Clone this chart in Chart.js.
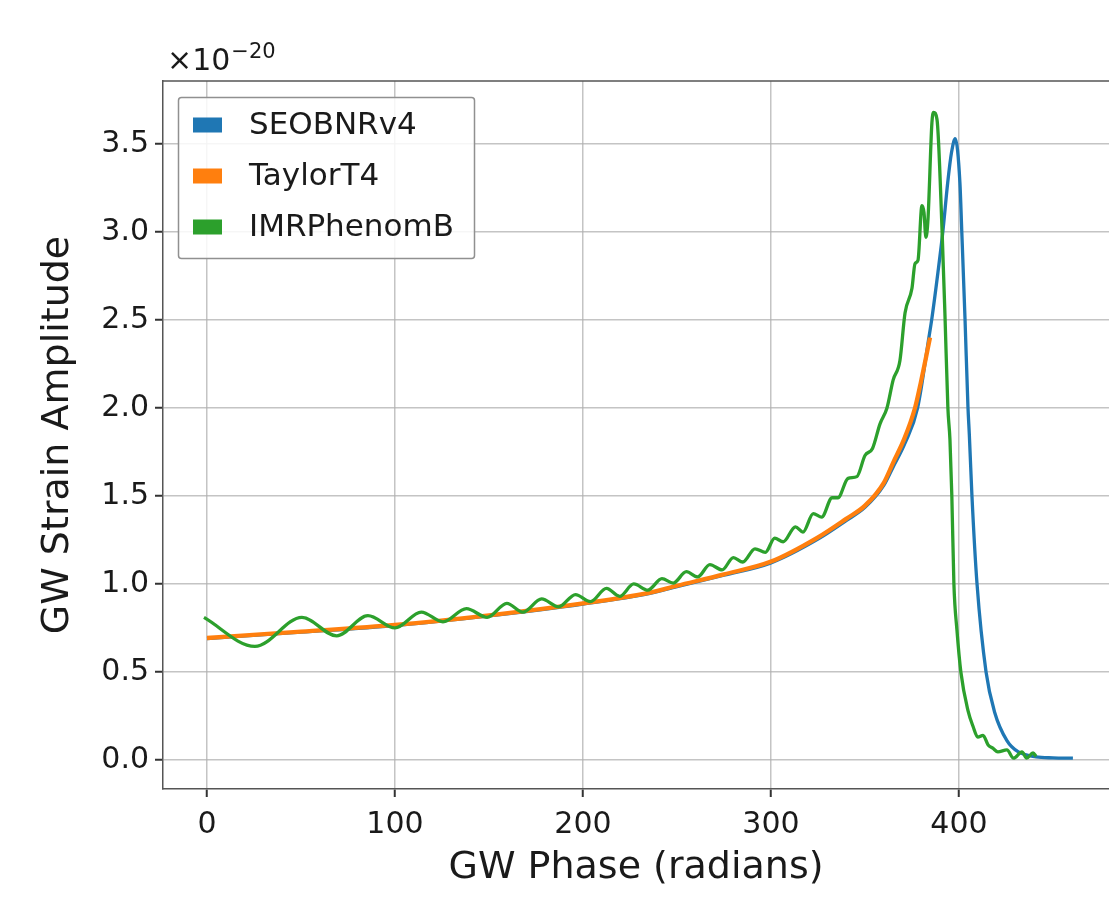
<!DOCTYPE html>
<html lang="en">
<head>
    <meta charset="UTF-8">
    <title>GW Strain Amplitude vs Phase</title>
    <script src="https://cdn.jsdelivr.net/npm/chart.js"></script>
    <style>
        body {
            margin: 0;
            background: #fff;
        }
        #wrap {
            width: 1109px;
            height: 900px;
        }
    </style>
</head>
<body>
    <div id="wrap">
        <canvas id="myChart" width="1109" height="900"></canvas>
    </div>

    <script>
        // values (y in units of 1e-20)
        const seobX = [0, 50, 100, 150, 200, 235, 250, 275, 300, 325, 340, 350, 360, 365, 371.3, 378, 384, 385.6, 388.8, 391.5, 394, 396, 398, 400.5, 401.5, 403.2, 404.8, 405.5, 406.9, 409.6, 414.4, 419, 425.5, 431.4, 441, 450, 460.6];
        const seobY = [0.69, 0.726, 0.764, 0.819, 0.886, 0.945, 0.985, 1.05, 1.12, 1.255, 1.36, 1.435, 1.56, 1.665, 1.80, 2.0, 2.40, 2.51, 2.77, 3.01, 3.28, 3.45, 3.53, 3.28, 3.0, 2.51, 2.0, 1.85, 1.5, 1.0, 0.5, 0.27, 0.11, 0.047, 0.018, 0.012, 0.01];

        const t4X = [0, 50, 100, 150, 200, 235, 250, 275, 300, 325, 340, 350, 360, 365, 370.7, 376.6, 379.6, 384.6];
        const t4Y = [0.693, 0.729, 0.767, 0.822, 0.89, 0.95, 0.99, 1.055, 1.127, 1.265, 1.37, 1.445, 1.575, 1.69, 1.82, 2.0, 2.14, 2.40];

        const imrX = [-1.6, 25.5, 50.5, 69, 85.6, 100, 114, 125.5, 138, 149, 159.5, 168, 178, 187, 196, 204, 212.5, 219.5, 227, 234.5, 242, 248, 255, 261, 267.5, 274, 280, 285, 291.5, 297, 302, 306.5, 313, 317, 322.5, 327, 332.5, 335.6, 341, 345.7, 350, 354, 358, 361.7, 365, 368.6, 371.3, 375, 376.6, 378.2, 380.3, 381.4, 382.4, 383.5, 385.6, 386.5, 388.3, 391, 392.6, 394.1, 395.2, 396.2, 397.3, 398.9, 401, 404.8, 407.5, 410, 412.8, 415.5, 418, 420.7, 425.5, 429, 433.5, 436, 439.4, 441];
        const imrY = [0.81, 0.645, 0.81, 0.705, 0.82, 0.75, 0.84, 0.785, 0.86, 0.81, 0.89, 0.84, 0.915, 0.87, 0.94, 0.90, 0.975, 0.93, 1.0, 0.965, 1.03, 1.005, 1.07, 1.04, 1.11, 1.08, 1.15, 1.125, 1.20, 1.18, 1.26, 1.24, 1.325, 1.295, 1.40, 1.38, 1.49, 1.49, 1.60, 1.61, 1.73, 1.77, 1.91, 2.0, 2.16, 2.27, 2.54, 2.68, 2.82, 2.84, 3.15, 3.11, 2.97, 3.07, 3.62, 3.68, 3.64, 3.01, 2.51, 2.0, 1.82, 1.5, 1.0, 0.74, 0.5, 0.28, 0.19, 0.13, 0.14, 0.085, 0.067, 0.046, 0.057, 0.01, 0.046, 0.01, 0.04, 0.02];

        const xTicks = [0, 100, 200, 300, 400];
        const yTicks = [0.0, 0.5, 1.0, 1.5, 2.0, 2.5, 3.0, 3.5];

        const FONT = 'DejaVu Sans';
        const TEXT = '#1a1a1a';
        const GRID = 'rgba(176,176,176,0.75)';
        const SPINE = '#555555';

        function pts(xs, ys) {
            return xs.map((x, i) => ({ x: x, y: ys[i] }));
        }

        // top spine, the legend box and the exponent label
        const decor = {
            id: 'decor',
            afterDatasetsDraw(chart) {
                const c = chart.ctx;
                const a = chart.chartArea;
                c.save();
                c.strokeStyle = SPINE;
                c.lineWidth = 1.5;
                c.beginPath();
                c.moveTo(a.left, a.top);
                c.lineTo(a.right, a.top);
                c.stroke();

                // legend
                c.fillStyle = 'rgba(255,255,255,0.85)';
                c.strokeStyle = '#909090';
                c.lineWidth = 1.5;
                c.beginPath();
                c.roundRect(178.5, 97.5, 296, 161, 3);
                c.fill();
                c.stroke();
                c.font = '31px "' + FONT + '"';
                c.textBaseline = 'middle';
                chart.data.datasets.forEach((ds, i) => {
                    const y = 125 + i * 51;
                    c.fillStyle = ds.borderColor;
                    c.fillRect(193, y - 7.5, 29, 15);
                    c.fillStyle = TEXT;
                    c.fillText(ds.label, 249, y + 1);
                });

                // exponent
                c.textBaseline = 'alphabetic';
                c.fillStyle = TEXT;
                c.font = '30px "' + FONT + '"';
                c.fillText('\u00d710', 167, 70);
                const w = c.measureText('\u00d710').width;
                c.font = '21px "' + FONT + '"';
                c.fillText('\u221220', 167 + w + 1, 58);
                c.restore();
            }
        };

        const ctx = document.getElementById('myChart').getContext('2d');
        const myChart = new Chart(ctx, {
            type: 'line',
            data: {
                datasets: [{
                    label: 'SEOBNRv4',
                    data: pts(seobX, seobY),
                    borderColor: '#1f77b4',
                    borderWidth: 3.3,
                    order: 2
                }, {
                    label: 'TaylorT4',
                    data: pts(t4X, t4Y),
                    borderColor: '#ff7f0e',
                    borderWidth: 4.3,
                    order: 1
                }, {
                    label: 'IMRPhenomB',
                    data: pts(imrX, imrY),
                    borderColor: '#2ca02c',
                    borderWidth: 3.3,
                    order: 0
                }]
            },
            options: {
                responsive: false,
                animation: false,
                elements: {
                    point: { radius: 0 },
                    line: { cubicInterpolationMode: 'monotone', fill: false }
                },
                layout: { padding: { top: 81, left: 0, right: 0, bottom: 0 } },
                plugins: {
                    legend: { display: false },
                    tooltip: { enabled: false }
                },
                scales: {
                    x: {
                        type: 'linear',
                        min: -23.4,
                        max: 479.8,
                        afterBuildTicks: s => { s.ticks = xTicks.map(v => ({ value: v })); },
                        afterFit: s => { s.height = 111; },
                        ticks: {
                            font: { family: FONT, size: 30 },
                            color: TEXT,
                            padding: 10,
                            maxRotation: 0,
                            callback: v => String(v)
                        },
                        grid: { color: GRID, lineWidth: 1.5, tickColor: '#333', tickLength: 8, tickWidth: 2 },
                        border: { color: SPINE, width: 1.5 },
                        title: {
                            display: true,
                            text: 'GW Phase (radians)',
                            font: { family: FONT, size: 38 },
                            color: TEXT,
                            padding: { top: 0, bottom: 9 }
                        }
                    },
                    y: {
                        type: 'linear',
                        min: -0.165,
                        max: 3.858,
                        afterBuildTicks: s => { s.ticks = yTicks.map(v => ({ value: v })); },
                        afterFit: s => { s.width = 163; },
                        ticks: {
                            font: { family: FONT, size: 30 },
                            color: TEXT,
                            padding: 6,
                            callback: v => Number(v).toFixed(1)
                        },
                        grid: { color: GRID, lineWidth: 1.5, tickColor: '#333', tickLength: 8, tickWidth: 2 },
                        border: { color: SPINE, width: 1.5 },
                        title: {
                            display: true,
                            text: 'GW Strain Amplitude',
                            font: { family: FONT, size: 38 },
                            color: TEXT,
                            padding: { top: 35, bottom: 0 }
                        }
                    }
                }
            },
            plugins: [decor]
        });
    </script>
</body>
</html>
